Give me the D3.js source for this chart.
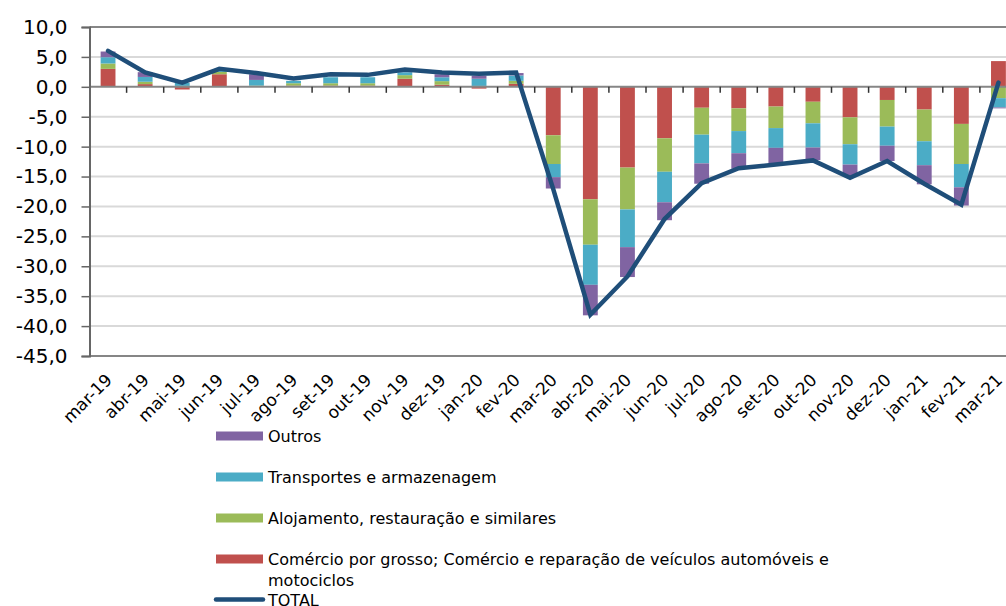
<!DOCTYPE html>
<html>
<head>
<meta charset="utf-8">
<script src="https://cdn.jsdelivr.net/npm/d3@7"></script>
<style>
  body { margin: 0; background: #fff; }
  svg { display: block; font-family: "DejaVu Sans", Verdana, sans-serif; }
</style>
</head>
<body>
<div id="chart"></div>
<script>
const months = ['mar-19', 'abr-19', 'mai-19', 'jun-19', 'jul-19', 'ago-19', 'set-19', 'out-19',
  'nov-19', 'dez-19', 'jan-20', 'fev-20', 'mar-20', 'abr-20', 'mai-20', 'jun-20', 'jul-20',
  'ago-20', 'set-20', 'out-20', 'nov-20', 'dez-20', 'jan-21', 'fev-21', 'mar-21'];

const comercio = [3.0, 0.45, -0.45, 2.1, 0.1, 0.2, 0.2, 0.2, 1.35, 0.35, -0.3, 0.5,
  -8.1, -18.8, -13.5, -8.6, -3.5, -3.6, -3.3, -2.5, -5.1, -2.2, -3.8, -6.2, 4.3];
const alojamento = [0.9, 0.4, 0.15, 0.4, 0.1, 0.4, 0.4, 0.4, 0.6, 0.6, 0.15, 0.5,
  -4.8, -7.6, -7.0, -5.6, -4.5, -3.8, -3.6, -3.6, -4.5, -4.45, -5.3, -6.7, -1.9];
const transportes = [1.05, 0.8, 0.5, 0.3, 0.95, 0.4, 1.0, 1.0, 0.5, 0.65, 1.2, 0.9,
  -2.2, -6.7, -6.3, -5.1, -4.8, -3.7, -3.3, -4.05, -3.4, -3.2, -4.0, -3.9, -1.55];
const outros = [0.95, 0.8, 0.0, 0.1, 0.95, 0.0, 0.0, 0.0, 0.3, 0.5, 0.5, 0.4,
  -1.9, -5.1, -5.0, -3.0, -3.4, -2.6, -2.55, -2.1, -1.9, -2.55, -3.2, -3.05, -0.15];
const total = [6.0, 2.4, 0.7, 3.0, 2.3, 1.4, 2.1, 2.0, 2.9, 2.4, 2.2, 2.4,
  -17.1, -38.1, -31.7, -22.1, -16.1, -13.6, -13.0, -12.3, -15.2, -12.4, -16.2, -19.7, 0.7];

const yTicks = [10, 5, 0, -5, -10, -15, -20, -25, -30, -35, -40, -45];

const series = [
  { key: 'comercio', name: 'Comércio por grosso; Comércio e reparação de veículos automóveis e', name2: 'motociclos', values: comercio, color: '#c0504d' },
  { key: 'alojamento', name: 'Alojamento, restauração e similares', values: alojamento, color: '#9bbb59' },
  { key: 'transportes', name: 'Transportes e armazenagem', values: transportes, color: '#4bacc6' },
  { key: 'outros', name: 'Outros', values: outros, color: '#8064a2' }
];

const width = 1006, height = 606;
const left = 89.5, step = 37.1;

const svg = d3.select('#chart').append('svg')
  .attr('width', width)
  .attr('height', height);

const x = d3.scaleBand()
  .domain(months)
  .range([left, left + step * months.length])
  .paddingInner(0.6)
  .paddingOuter(0.3);

const y = d3.scaleLinear().domain([-45, 10]).range([356, 27]);

const rows = months.map((m, i) => {
  const r = { month: m };
  series.forEach(s => { r[s.key] = s.values[i]; });
  return r;
});

const stacked = d3.stack()
  .keys(series.map(s => s.key))
  .offset(d3.stackOffsetDiverging)(rows);

// gridlines
svg.append('g')
  .selectAll('line')
  .data(yTicks.filter(t => t !== 10 && t !== 0 && t !== -45))
  .enter()
  .append('line')
  .attr('x1', left)
  .attr('x2', width)
  .attr('y1', d => y(d))
  .attr('y2', d => y(d))
  .attr('stroke', '#d9d9d9')
  .attr('stroke-width', 2);

// top & bottom borders
[10, -45].forEach(v => {
  svg.append('line')
    .attr('x1', left).attr('x2', width)
    .attr('y1', y(v)).attr('y2', y(v))
    .attr('stroke', '#868686')
    .attr('stroke-width', 2);
});

// bars
const colorOf = {};
series.forEach(s => { colorOf[s.key] = s.color; });

svg.append('g')
  .selectAll('g')
  .data(stacked)
  .enter()
  .append('g')
  .attr('fill', d => colorOf[d.key])
  .selectAll('rect')
  .data(d => d)
  .enter()
  .append('rect')
  .attr('x', d => x(d.data.month))
  .attr('width', x.bandwidth())
  .attr('y', d => y(Math.max(d[0], d[1])))
  .attr('height', d => Math.abs(y(d[0]) - y(d[1])));

// zero axis with category ticks
svg.append('line')
  .attr('x1', left).attr('x2', width)
  .attr('y1', y(0)).attr('y2', y(0))
  .attr('stroke', '#868686')
  .attr('stroke-width', 2);

svg.append('g')
  .selectAll('line')
  .data(d3.range(1, months.length))
  .enter()
  .append('line')
  .attr('x1', i => left + i * step)
  .attr('x2', i => left + i * step)
  .attr('y1', y(0))
  .attr('y2', y(0) + 6)
  .attr('stroke', '#333')
  .attr('stroke-width', 1.5);

// y axis
const yAxis = d3.axisLeft(y)
  .tickValues(yTicks)
  .tickSize(8)
  .tickPadding(14)
  .tickFormat(d => d3.format('.1f')(d).replace('.', ',').replace('−', '-'));

const gY = svg.append('g')
  .attr('transform', `translate(${left},0)`)
  .call(yAxis);
gY.select('.domain').attr('stroke', '#666').attr('stroke-width', 2);
gY.selectAll('.tick line').attr('stroke', '#666').attr('stroke-width', 1.5);
gY.selectAll('.tick text')
  .attr('font-size', 20)
  .attr('fill', '#000')
  .attr('font-family', '"DejaVu Sans", Verdana, sans-serif');

// x labels
svg.append('g')
  .selectAll('text')
  .data(months)
  .enter()
  .append('text')
  .attr('transform', d => `translate(${x(d) + x.bandwidth() / 2 + 5}, 381) rotate(-45)`)
  .attr('text-anchor', 'end')
  .attr('font-size', 17)
  .attr('fill', '#000')
  .text(d => d);

// total line
const line = d3.line()
  .x((d, i) => x(months[i]) + x.bandwidth() / 2)
  .y(d => y(d));

svg.append('path')
  .datum(total)
  .attr('d', line)
  .attr('fill', 'none')
  .attr('stroke', '#1f4e79')
  .attr('stroke-width', 4.5)
  .attr('stroke-linecap', 'round');

// legend
const legendItems = series.slice().reverse();
const legend = svg.append('g').attr('font-size', 16).attr('fill', '#000');

legendItems.forEach((s, i) => {
  const cy = 436 + i * 41;
  legend.append('rect')
    .attr('x', 216).attr('y', cy - 4.5)
    .attr('width', 47).attr('height', 9)
    .attr('fill', s.color);
  legend.append('text')
    .attr('x', 268).attr('y', cy + 6)
    .text(s.name);
  if (s.name2) {
    legend.append('text')
      .attr('x', 268).attr('y', cy + 27)
      .text(s.name2);
  }
});

legend.append('line')
  .attr('x1', 216).attr('x2', 263)
  .attr('y1', 599.5).attr('y2', 599.5)
  .attr('stroke', '#1f4e79')
  .attr('stroke-width', 4.5)
  .attr('stroke-linecap', 'round');
legend.append('text')
  .attr('x', 268).attr('y', 605.5)
  .text('TOTAL');
</script>
</body>
</html>
